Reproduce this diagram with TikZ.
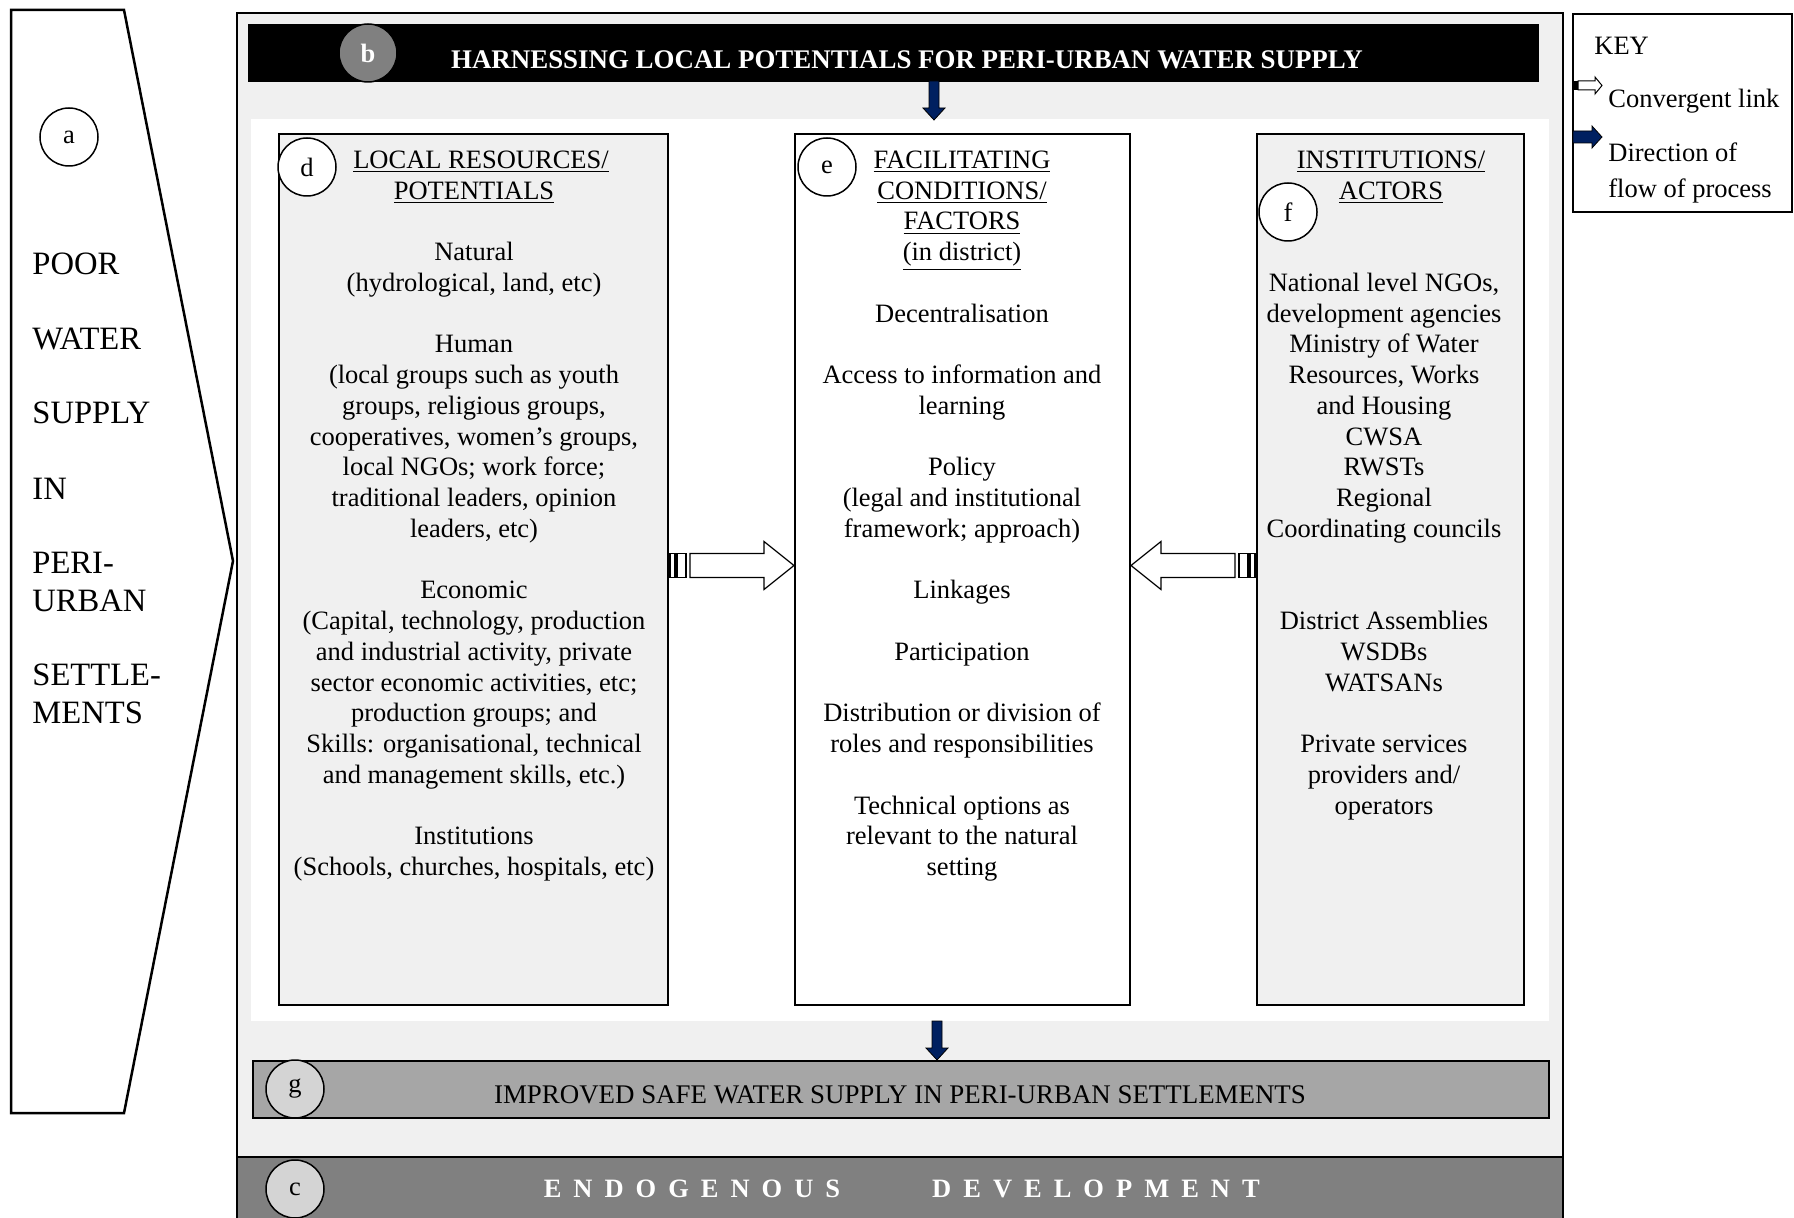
\documentclass[tikz,border=0pt]{standalone}
\usepackage{fontspec}
\setmainfont{Liberation Serif}
\usetikzlibrary{calc}

\definecolor{framebg}{HTML}{F0F0F0}
\definecolor{panelgray}{HTML}{F0F0F0}
\definecolor{resultgray}{HTML}{A6A6A6}
\definecolor{basegray}{HTML}{808080}
\definecolor{tagfill}{HTML}{D4D4D4}
\definecolor{flownavy}{RGB}{0,32,96}

\newcommand\bodyfont{\fontsize{13.25pt}{15.375pt}\selectfont}
\newcommand\barfont{\fontsize{13.45pt}{15.375pt}\selectfont}
\newcommand\sidefont{\fontsize{16.3pt}{19pt}\selectfont}
\newcommand\blankline{\\[15.375pt]}
\newcommand\twoblank{\\[30.75pt]}
\newcommand\trk{\hspace{6pt}}

% hollow "convergent link" arrow: #1 tip, #2 = 1 points right, -1 points left
\newcommand\convlink[2]{%
  \begin{scope}[shift={(#1)}, xscale=#2]
    \draw[convline] (-124,-12) rectangle (-119,12);
    \draw[convline] (-117,-12) rectangle (-108,12);
    \draw[convline] (-104,-12) -- (-30,-12) -- (-30,-24) -- (0,0)
      -- (-30,24) -- (-30,12) -- (-104,12) -- cycle;
  \end{scope}}

% solid "direction of flow" arrow pointing down from #1 to the tip #2
\newcommand\flowarrow[2]{%
  \fill[flownavy, draw=black, line width=0.4pt]
    ($(#1)+(-5,0)$) -- ($(#1)+(5,0)$) -- ($(#2)+(5,-12)$) -- ($(#2)+(11,-12)$)
    -- (#2) -- ($(#2)+(-11,-12)$) -- ($(#2)+(-5,-12)$) -- cycle;}

\tikzset{
  tag/.style={circle, draw, line width=0.75pt, minimum size=29pt, inner sep=0pt,
    font=\bodyfont},
  panel/.style={draw, line width=1pt, inner sep=0pt, minimum height=435.5pt},
  bodytext/.style={align=center, font=\bodyfont, inner sep=0pt, anchor=north},
  sidelabel/.style={font=\sidefont, anchor=base west, inner sep=0pt},
  keytext/.style={font=\bodyfont, anchor=base west, inner sep=0pt, align=left},
  convline/.style={draw=black, fill=white, line width=0.6pt},
  bar/.style={draw, line width=1pt, inner sep=0pt},
}

\begin{document}
\begin{tikzpicture}[x=0.5pt, y=-0.5pt]
\useasboundingbox (0,0) rectangle (1794,1218);

% left banner
\draw[line width=1.25pt, fill=white, line join=miter]
  (11,10) -- (124,10) -- (233,561) -- (124,1113) -- (11,1113) -- cycle;
\node[tag, fill=white] (tagA) at (69,137) {a};
\node[sidelabel] (sPoor)   at (32,274.6) {POOR};
\node[sidelabel] (sWater)  at (32,349.6) {WATER};
\node[sidelabel] (sSupply) at (32,423.6) {SUPPLY};
\node[sidelabel] (sIn)     at (32,499.6) {IN};
\node[sidelabel] (sPeri)   at (32,573.6) {PERI-};
\node[sidelabel] (sUrban)  at (32,611.6) {URBAN};
\node[sidelabel] (sSettle) at (32,685.6) {SETTLE-};
\node[sidelabel] (sMents)  at (32,723.6) {MENTS};

% main frame and inner white field
\draw[line width=1pt, fill=framebg] (237,13) rectangle (1563,1240);
\fill[white] (251,119) rectangle (1549,1021);

% top bar
\node[bar, fill=black, minimum width=644.5pt, minimum height=28pt] (barB) at (893.5,53) {};
\node[font=\barfont\bfseries, text=white, inner sep=0pt] (titleB) at (907,60)
  {HARNESSING LOCAL POTENTIALS FOR PERI-URBAN WATER SUPPLY};
\node[tag, fill=basegray, text=white, font=\bodyfont\bfseries] (tagB) at (368,53) {b};

% three panels
\node[panel, fill=panelgray, minimum width=194.5pt] (boxD) at (473.5,569.5) {};
\node[panel, fill=white, minimum width=167.5pt] (boxE) at (962.5,569.5) {};
\node[panel, fill=panelgray, minimum width=133.5pt] (boxF) at (1390.5,569.5) {};

\node[bodytext] (textD) at (474,146.5) {\strut\hspace*{7pt}\underline{LOCAL RESOURCES/}\\
\underline{POTENTIALS}\blankline
Natural\\
(hydrological, land, etc)\blankline
Human\\
(local groups such as youth\\
groups, religious groups,\\
cooperatives, women’s groups,\\
local NGOs; work force;\\
traditional leaders, opinion\\
leaders, etc)\blankline
Economic\\
(Capital, technology, production\\
and industrial activity, private\\
sector economic activities, etc;\\
production groups; and\\
Skills: organisational, technical\\
and management skills, etc.)\blankline
Institutions\\
(Schools, churches, hospitals, etc)};

\node[bodytext] (textE) at (962,146.5) {\strut\underline{FACILITATING}\\
\underline{CONDITIONS/}\\
\underline{FACTORS}\\
\underline{(in district)}\blankline
Decentralisation\blankline
Access to information and\\
learning\blankline
Policy\\
(legal and institutional\\
framework; approach)\blankline
Linkages\blankline
Participation\blankline
Distribution or division of\\
roles and responsibilities\blankline
Technical options as\\
relevant to the natural\\
setting};

\node[bodytext] (headF) at (1391,146.5) {\strut\underline{INSTITUTIONS/}\\
\underline{ACTORS}};
\node[bodytext] (textF) at (1384,269.5) {\strut National level NGOs,\\
development agencies\\
Ministry of Water\\
Resources, Works\\
and Housing\\
CWSA\\
RWSTs\\
Regional\\
Coordinating councils\twoblank
District Assemblies\\
WSDBs\\
WATSANs\blankline
Private services\\
providers and/\\
operators};

\node[tag, fill=white] (tagD) at (307,167) {d};
\node[tag, fill=white] (tagE) at (827,167) {e};
\node[tag, fill=white] (tagF) at (1288,212) {f};

% convergent links into the central panel
\coordinate (convL) at ($(boxE.west)+(0,-4)$);
\coordinate (convR) at ($(boxE.east)+(0,-4)$);
\convlink{convL}{1}
\convlink{convR}{-1}

% result bar
\node[bar, fill=resultgray, minimum width=648pt, minimum height=28.5pt] (barG) at (901,1089.5) {};
\node[font=\barfont, inner sep=0pt] (titleG) at (900,1095)
  {IMPROVED SAFE WATER SUPPLY IN PERI-URBAN SETTLEMENTS};
\node[tag, fill=tagfill] (tagG) at (295,1089) {g};

% flow arrows
\coordinate (flowTopS) at (934,81);
\coordinate (flowTopT) at (934,120);
\coordinate (flowBotS) at (937,1021);
\coordinate (flowBotT) at (937,1060);
\flowarrow{flowTopS}{flowTopT}
\flowarrow{flowBotS}{flowBotT}

% base bar
\fill[basegray] (237,1157) rectangle (1563,1240);
\draw[line width=1pt] (237,1240) -- (237,1157) -- (1563,1157) -- (1563,1240);
\node[font=\bodyfont\bfseries, text=white, inner sep=0pt] (endo) at (692,1189)
  {E\trk N\trk D\trk O\trk G\trk E\trk N\trk O\trk U\trk S};
\node[font=\bodyfont\bfseries, text=white, inner sep=0pt] (devel) at (1096,1189)
  {D\trk E\trk V\trk E\trk L\trk O\trk P\trk M\trk E\trk N\trk T};
\node[tag, fill=tagfill] (tagC) at (295,1189) {c};

% key
\draw[line width=1pt] (1573,14) rectangle (1792,212);
\node[keytext] (keyTitle) at (1594,55) {KEY};
\begin{scope}[shift={(1602,85.5)}]
  \fill[black] (-29,-4.5) rectangle (-24,4.5);
  \draw[convline, line width=0.5pt] (-24,-4.5) -- (-7,-4.5) -- (-7,-8.5) -- (0,0)
    -- (-7,8.5) -- (-7,4.5) -- (-24,4.5) -- cycle;
\end{scope}
\node[keytext] (keyConv) at (1608,108) {Convergent link};
\coordinate (keyFlowS) at (1573,137);
\coordinate (keyFlowT) at (1602,137);
\fill[flownavy, draw=black, line width=0.4pt]
  ($(keyFlowS)+(0,-6)$) -- ($(keyFlowT)+(-10,-6)$) -- ($(keyFlowT)+(-10,-11)$)
  -- (keyFlowT) -- ($(keyFlowT)+(-10,11)$) -- ($(keyFlowT)+(-10,6)$)
  -- ($(keyFlowS)+(0,6)$) -- cycle;
\node[keytext, font=\fontsize{13.25pt}{18pt}\selectfont] (keyFlow) at (1608,198)
  {Direction of\\flow of process};
\end{tikzpicture}
\end{document}
